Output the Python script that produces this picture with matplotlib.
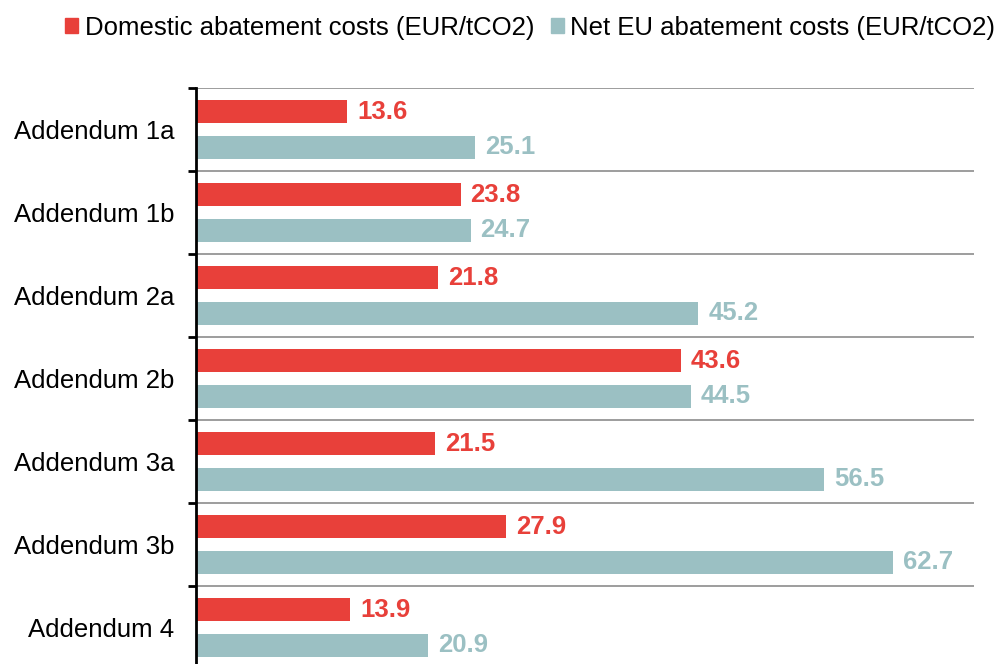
import numpy as np
import matplotlib.pyplot as plt
from matplotlib.patches import Patch

plt.rcParams['font.family'] = ['Liberation Sans', 'DejaVu Sans']

categories = ["Addendum 1a", "Addendum 1b", "Addendum 2a", "Addendum 2b",
              "Addendum 3a", "Addendum 3b", "Addendum 4"]
domestic = [13.6, 23.8, 21.8, 43.6, 21.5, 27.9, 13.9]
net_eu = [25.1, 24.7, 45.2, 44.5, 56.5, 62.7, 20.9]
series_names = ["Domestic abatement costs (EUR/tCO2)", "Net EU abatement costs (EUR/tCO2)"]

red = "#E8403A"
teal = "#9BC0C3"
fs = 18.5

fig = plt.figure(figsize=(9.99, 6.64), dpi=100)
ax = fig.add_axes([196 / 999, 0, (974 - 196) / 999, 1 - 88 / 664])

y = np.arange(len(categories))
h = 0.28
off = 0.215
ax.barh(y - off, domestic, height=h, color=red)
ax.barh(y + off, net_eu, height=h, color=teal)

for yi, v in zip(y, domestic):
    ax.text(v + 0.9, yi - off, f"{v:.1f}", color=red, fontsize=fs,
            fontweight="bold", va="center", ha="left")
for yi, v in zip(y, net_eu):
    ax.text(v + 0.9, yi + off, f"{v:.1f}", color=teal, fontsize=fs,
            fontweight="bold", va="center", ha="left")

bounds = np.arange(-0.5, len(categories) - 0.5, 1.0)
for b in bounds:
    ax.axhline(b, color="#8c8c8c", lw=1.2, zorder=0)

ax.set_xlim(0, 70)
ax.set_ylim(6.44, -0.5)

ax.set_yticks(bounds)
ax.set_yticklabels([])
ax.tick_params(axis="y", which="major", length=6, width=2, color="black", direction="out")
ax.set_yticks(y, minor=True)
ax.set_yticklabels(categories, minor=True, fontsize=fs)
ax.tick_params(axis="y", which="minor", length=0, pad=15.5)
ax.set_xticks([])

for s in ["top", "right", "bottom"]:
    ax.spines[s].set_visible(False)
ax.spines["left"].set_linewidth(2)

handles = [Patch(color=red), Patch(color=teal)]
fig.legend(handles, series_names, loc="center", bbox_to_anchor=(0.531, 1 - 27.5 / 664),
           ncol=2, frameon=False, fontsize=fs, handlelength=0.5, handleheight=0.5,
           handletextpad=0.27, columnspacing=0.62, borderpad=0, borderaxespad=0)

fig.savefig("out.png", dpi=100)
